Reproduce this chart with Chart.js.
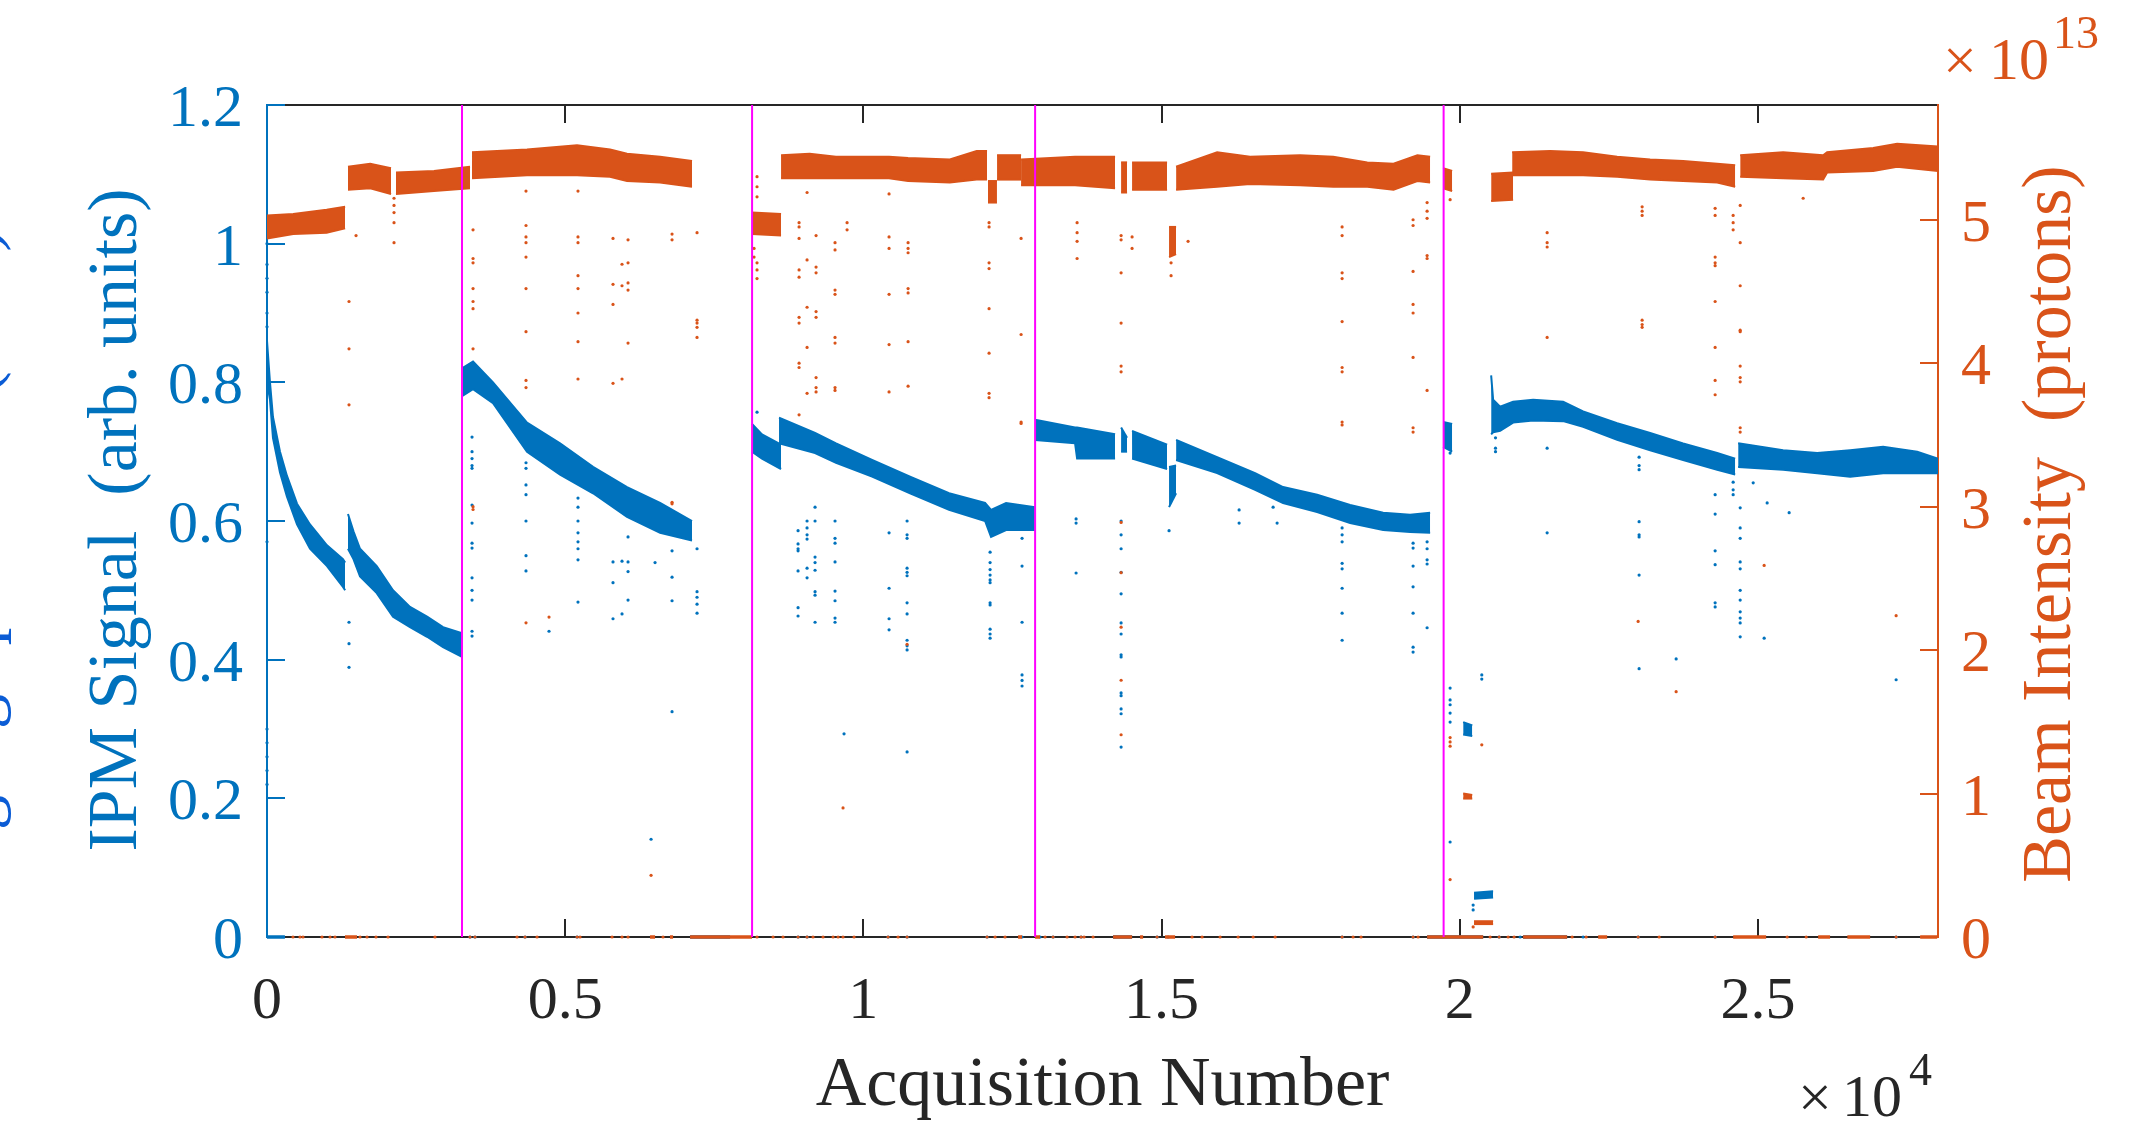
<!DOCTYPE html>
<html>
<head>
<meta charset="utf-8">
<script src="https://cdn.jsdelivr.net/npm/chart.js@4.4.1/dist/chart.umd.min.js"></script>
<style>
  html, body { margin: 0; padding: 0; background: #fff; }
  #wrap { width: 2145px; height: 1132px; position: relative; }
</style>
</head>
<body>
<div id="wrap"><canvas id="chart"></canvas></div>
<script>
const BLUE = '#0072BD';
const ORANGE = '#D95319';
const MAGENTA = '#FF00FF';
const INK = '#262626';
const SERIF = '"Liberation Serif", "Times New Roman", serif';

// axes
const X_MAX = 28020;
const xTicks = [0, 5000, 10000, 15000, 20000, 25000];
const xTickLabels = ['0', '0.5', '1', '1.5', '2', '2.5'];
const ipmTicks = [0, 0.2, 0.4, 0.6, 0.8, 1, 1.2];
const ipmTickLabels = ['0', '0.2', '0.4', '0.6', '0.8', '1', '1.2'];
const beamTicks = [0, 1, 2, 3, 4, 5];
const beamTickLabels = ['0', '1', '2', '3', '4', '5'];

// acquisition numbers where a new run starts (magenta lines)
const runStarts = [3270, 8134, 12880, 19730];

// IPM signal: dense bands, [acquisition, upper edge, lower edge]
const ipmBands = [
  [[0, 50, 100, 218, 335, 503, 721, 1006, 1274, 1310], [0.86, 0.80, 0.75, 0.70, 0.665, 0.625, 0.595, 0.565, 0.545, 0.54], [0.80, 0.775, 0.72, 0.67, 0.635, 0.595, 0.56, 0.535, 0.505, 0.50]],
  [[1358, 1450, 1560, 1840, 2113, 2398, 2684, 2952, 3270], [0.61, 0.585, 0.56, 0.535, 0.50, 0.476, 0.462, 0.447, 0.438], [0.56, 0.545, 0.52, 0.496, 0.462, 0.447, 0.433, 0.418, 0.404]],
  [[3270, 3455, 3790, 4360, 4914, 5467, 6037, 6591, 7127], [0.82, 0.83, 0.80, 0.742, 0.712, 0.678, 0.649, 0.626, 0.60], [0.78, 0.79, 0.77, 0.70, 0.667, 0.64, 0.606, 0.583, 0.572]],
  [[8133, 8300, 8620], [0.74, 0.725, 0.71], [0.70, 0.69, 0.675]],
  [[8586, 9190, 9542, 10146, 10783, 11437, 12041, 12141, 12393, 12879], [0.749, 0.727, 0.712, 0.688, 0.664, 0.64, 0.626, 0.616, 0.626, 0.62], [0.712, 0.698, 0.684, 0.664, 0.64, 0.616, 0.60, 0.577, 0.587, 0.587]],
  [[12879, 13550, 13584, 14221], [0.746, 0.735, 0.735, 0.725], [0.717, 0.712, 0.69, 0.69]],
  [[14322, 14422], [0.735, 0.72], [0.70, 0.70]],
  [[14506, 15093], [0.73, 0.71], [0.69, 0.675]],
  [[15126, 15244], [0.678, 0.68], [0.62, 0.64]],
  [[15244, 15932, 16569, 17038, 17609, 18162, 18716, 19168, 19504], [0.717, 0.692, 0.669, 0.649, 0.638, 0.623, 0.612, 0.609, 0.612], [0.688, 0.669, 0.645, 0.626, 0.613, 0.597, 0.587, 0.584, 0.583]],
  [[19722, 19873], [0.743, 0.74], [0.707, 0.70]],
  [[20058, 20210], [0.31, 0.305], [0.292, 0.29]],
  [[20240, 20560], [0.064, 0.066], [0.055, 0.057]],
  [[20527, 20560, 20678, 20895, 21231, 21734, 22069, 22640, 23193, 23746, 24317, 24619], [0.81, 0.775, 0.765, 0.772, 0.775, 0.772, 0.758, 0.741, 0.727, 0.712, 0.698, 0.69], [0.725, 0.728, 0.73, 0.742, 0.745, 0.744, 0.736, 0.717, 0.702, 0.688, 0.674, 0.667]],
  [[24669, 25423, 25994, 26547, 27100, 27671, 28020], [0.712, 0.702, 0.698, 0.702, 0.707, 0.70, 0.69], [0.678, 0.674, 0.669, 0.664, 0.669, 0.669, 0.669]]
];

// IPM signal: isolated points, [acquisition, values]
const ipmSpikes = [
  [0, [1.00, 0.97, 0.95, 0.93, 0.90, 0.88, 0.57, 0.30, 0.28, 0.26, 0.24, 0.22]],
  [1375, [0.454, 0.423, 0.389]],
  [3438, [0.721, 0.70, 0.69, 0.68, 0.676, 0.623, 0.597, 0.568, 0.561, 0.518, 0.50, 0.486, 0.441, 0.434]],
  [4343, [0.684, 0.676, 0.652, 0.638, 0.60, 0.55, 0.528]],
  [4729, [0.441]],
  [5215, [0.633, 0.62, 0.60, 0.583, 0.57, 0.56, 0.544, 0.483]],
  [5802, [0.541, 0.511, 0.459]],
  [5953, [0.542, 0.466]],
  [6054, [0.577, 0.541, 0.527, 0.486]],
  [6440, [0.141]],
  [6507, [0.54]],
  [6792, [0.557, 0.519, 0.485, 0.325]],
  [7211, [0.56, 0.498, 0.49, 0.48, 0.467]],
  [8217, [0.757]],
  [8905, [0.586, 0.567, 0.56, 0.557, 0.528, 0.475, 0.463]],
  [9056, [0.60, 0.59, 0.58, 0.574, 0.532, 0.518]],
  [9190, [0.62, 0.60, 0.548, 0.54, 0.529, 0.498, 0.493, 0.454]],
  [9525, [0.60, 0.575, 0.568, 0.541, 0.499, 0.485, 0.46, 0.454]],
  [9676, [0.293]],
  [10431, [0.583, 0.503, 0.459, 0.443]],
  [10733, [0.60, 0.58, 0.575, 0.532, 0.526, 0.521, 0.482, 0.466, 0.428, 0.42, 0.414, 0.267]],
  [12125, [0.555, 0.54, 0.53, 0.522, 0.515, 0.511, 0.482, 0.479, 0.444, 0.437, 0.431]],
  [12661, [0.575, 0.535, 0.454, 0.378, 0.37, 0.362]],
  [13567, [0.603, 0.597, 0.525]],
  [14322, [0.60, 0.58, 0.56, 0.526, 0.495, 0.453, 0.437, 0.407, 0.404, 0.352, 0.348, 0.329, 0.322, 0.274]],
  [15126, [0.586]],
  [16301, [0.616, 0.597]],
  [16871, [0.62]],
  [16938, [0.597]],
  [18028, [0.59, 0.58, 0.57, 0.539, 0.531, 0.503, 0.467, 0.428]],
  [19218, [0.568, 0.561, 0.535, 0.505, 0.467, 0.418, 0.411]],
  [19453, [0.57, 0.56, 0.544, 0.538, 0.446]],
  [19839, [0.698, 0.359, 0.342, 0.335, 0.323, 0.31, 0.137]],
  [20225, [0.046, 0.039]],
  [20370, [0.378, 0.372]],
  [20600, [0.72, 0.705, 0.70]],
  [21466, [0.705, 0.583]],
  [23008, [0.692, 0.68, 0.674, 0.599, 0.58, 0.577, 0.522, 0.387]],
  [23629, [0.401]],
  [24283, [0.638, 0.61, 0.557, 0.537, 0.482, 0.476]],
  [24585, [0.656, 0.645, 0.638]],
  [24703, [0.619, 0.59, 0.575, 0.541, 0.531, 0.50, 0.486, 0.469, 0.46, 0.453, 0.433]],
  [24921, [0.655]],
  [25105, [0.431]],
  [25155, [0.626]],
  [25524, [0.612]],
  [27318, [0.371]]
];

// IPM signal: zero readings
const ipmZeroX = [3404, 3488, 4327, 5199, 8905, 9056, 10414, 10733, 12074, 12661, 12963, 13181, 13651, 14925, 15110, 18028, 19218, 20661, 21013, 22069, 22992, 24283, 27318];
const ipmZeroRuns = [[0, 300], [7094, 7765], [14187, 14506], [19453, 20393], [21063, 21801]];

// beam intensity (x1e13 protons): dense bands
const beamBands = [
  [[0, 440, 1000, 1310], [5.03, 5.04, 5.07, 5.09], [4.87, 4.90, 4.91, 4.94]],
  [[1358, 1730, 2080], [5.37, 5.39, 5.36], [5.21, 5.22, 5.18]],
  [[2163, 2800, 3404], [5.33, 5.34, 5.37], [5.18, 5.20, 5.22]],
  [[3438, 4360, 5199, 5752, 6037, 6591, 7127], [5.47, 5.49, 5.52, 5.49, 5.46, 5.44, 5.41], [5.29, 5.31, 5.31, 5.30, 5.27, 5.26, 5.23]],
  [[8133, 8620], [5.05, 5.04], [4.90, 4.89]],
  [[8620, 9100, 9540, 10430, 10750, 11450, 11900, 12074], [5.45, 5.46, 5.44, 5.44, 5.43, 5.42, 5.48, 5.48], [5.29, 5.29, 5.29, 5.29, 5.27, 5.26, 5.28, 5.28]],
  [[12090, 12240], [5.27, 5.27], [5.12, 5.12]],
  [[12242, 12645], [5.45, 5.45], [5.28, 5.28]],
  [[12645, 13550, 14221], [5.42, 5.44, 5.44], [5.24, 5.24, 5.22]],
  [[14322, 14422], [5.40, 5.40], [5.19, 5.19]],
  [[14506, 15093], [5.40, 5.40], [5.21, 5.21]],
  [[15126, 15244], [4.95, 4.95], [4.74, 4.76]],
  [[15244, 15932, 16485, 17323, 17880, 18450, 18890, 19290, 19504], [5.37, 5.47, 5.44, 5.45, 5.44, 5.40, 5.39, 5.45, 5.44], [5.21, 5.23, 5.25, 5.24, 5.23, 5.23, 5.21, 5.27, 5.26]],
  [[19722, 19873], [5.36, 5.34], [5.22, 5.20]],
  [[20058, 20210], [1.0, 0.99], [0.965, 0.965]],
  [[20240, 20560], [0.11, 0.11], [0.09, 0.09]],
  [[20527, 20895], [5.32, 5.33], [5.13, 5.14]],
  [[20879, 21516, 22069, 22640, 23193, 23746, 24317, 24619], [5.47, 5.48, 5.47, 5.44, 5.42, 5.41, 5.39, 5.38], [5.31, 5.31, 5.31, 5.30, 5.28, 5.27, 5.26, 5.23]],
  [[24703, 25423, 26094, 26161, 26933, 27335, 28020], [5.45, 5.47, 5.45, 5.47, 5.50, 5.53, 5.51], [5.30, 5.29, 5.28, 5.33, 5.34, 5.37, 5.34]]
];

const beamSpikes = [
  [1375, [4.43, 4.10, 3.71]],
  [1493, [4.89]],
  [2130, [5.15, 5.10, 5.05, 4.98, 4.84]],
  [3455, [4.93, 4.73, 4.70, 4.52, 4.43, 4.38, 4.10, 3.00, 2.98]],
  [4343, [5.20, 4.96, 4.88, 4.84, 4.74, 4.52, 4.22, 3.88, 3.83, 2.19]],
  [4729, [2.23]],
  [5215, [5.20, 4.88, 4.84, 4.61, 4.52, 4.35, 4.15, 3.89]],
  [5802, [4.87, 4.55, 4.41, 3.86]],
  [5953, [4.69, 4.54, 3.89]],
  [6054, [4.86, 4.70, 4.56, 4.51, 4.14]],
  [6440, [0.43]],
  [6792, [4.90, 4.86, 3.03, 3.02]],
  [7211, [4.91, 4.30, 4.28, 4.25, 4.18]],
  [8167, [4.80, 4.74]],
  [8217, [5.30, 5.23, 5.16, 4.70, 4.65, 4.59]],
  [8922, [4.98, 4.95, 4.87, 4.65, 4.60, 4.32, 4.28, 4.00, 3.97, 3.64]],
  [9056, [5.19, 4.72, 4.39, 4.11, 3.79]],
  [9207, [4.89, 4.67, 4.63, 4.36, 4.32, 3.90, 3.83, 3.80]],
  [9525, [4.84, 4.79, 4.51, 4.48, 4.18, 4.14, 3.83, 3.81]],
  [9659, [0.90]],
  [9727, [4.98, 4.93]],
  [10431, [5.18, 4.88, 4.80, 4.48, 4.13, 3.80]],
  [10733, [2.04]],
  [10750, [4.84, 4.80, 4.77, 4.52, 4.49, 4.15, 3.84]],
  [12108, [4.98, 4.95, 4.70, 4.66, 4.38, 4.07, 3.79, 3.76]],
  [12645, [4.87, 4.20, 3.59, 3.58]],
  [13584, [4.98, 4.91, 4.85, 4.73]],
  [14322, [4.89, 4.86, 4.63, 4.28, 3.98, 3.94, 2.89, 2.54, 2.16, 1.79, 1.41]],
  [14506, [4.88, 4.80]],
  [15160, [4.70, 4.61]],
  [15445, [4.85]],
  [18028, [4.95, 4.89, 4.63, 4.59, 4.29, 3.97, 3.94, 3.59, 3.57]],
  [19218, [5.00, 4.96, 4.64, 4.41, 4.35, 4.04, 3.55, 3.52]],
  [19453, [5.12, 5.06, 5.01, 4.75, 4.73, 3.81]],
  [19839, [5.14, 1.39, 1.36, 1.33, 0.40]],
  [20225, [0.07]],
  [20370, [1.34]],
  [21466, [4.91, 4.84, 4.81, 4.18]],
  [22992, [2.20]],
  [23059, [5.09, 5.06, 5.03, 4.30, 4.27, 4.25]],
  [23629, [1.71]],
  [24283, [5.08, 5.03, 4.74, 4.70, 4.68, 4.43, 4.11, 3.88, 3.78]],
  [24585, [5.03, 4.98, 4.93]],
  [24703, [5.10, 4.84, 4.54, 4.23, 4.22, 3.98, 3.90, 3.87, 3.55, 3.52]],
  [25105, [2.59]],
  [25759, [5.15]],
  [27318, [2.24]]
];

const beamZeroX = [436, 553, 604, 922, 1057, 1140, 1560, 1677, 1828, 2029, 2817, 3404, 3488, 4193, 4327, 4528, 5199, 5249, 5786, 5953, 6054, 6641, 8217, 8486, 8653, 8905, 9056, 9156, 9324, 9492, 9576, 9659, 9844, 10414, 10582, 10733, 12074, 12209, 12376, 13047, 13181, 13416, 13550, 13651, 13701, 13852, 14925, 15512, 15680, 15982, 16284, 16536, 16905, 18028, 18212, 18346, 19218, 19302, 20510, 20661, 20812, 20912, 21885, 22120, 22992, 23344, 24283, 25491, 25810, 27318];
const beamZeroRuns = [[1308, 1509], [6423, 6507], [6758, 6809], [7094, 8133], [12594, 12661], [12879, 12963], [14187, 14506], [14640, 14691], [15059, 15227], [19453, 20393], [21063, 21801], [22321, 22472], [24585, 25138], [26010, 26210], [26500, 26882], [27721, 28006]];

// ---- dataset builders ----
function bandSets(bands, color, axis, order) {
  const out = [];
  bands.forEach(([xs, hi, lo]) => {
    const common = { borderColor: color, borderWidth: 2, pointRadius: 0, yAxisID: axis, order: order, clip: false, tension: 0 };
    out.push({ ...common, data: xs.map((x, i) => ({ x: x, y: hi[i] })), fill: false });
    out.push({ ...common, data: xs.map((x, i) => ({ x: x, y: lo[i] })), fill: '-1', backgroundColor: color });
  });
  return out;
}

function pointSet(pairs, color, axis, order) {
  const pts = [];
  pairs.forEach(([x, ys]) => ys.forEach(y => pts.push({ x: x, y: y })));
  return { data: pts, showLine: false, pointRadius: 1.6, pointBorderWidth: 0, pointBackgroundColor: color, yAxisID: axis, order: order, clip: false };
}

function runSets(runs, color, axis, order) {
  return runs.map(([a, b]) => ({ data: [{ x: a, y: 0 }, { x: b, y: 0 }], borderColor: color, borderWidth: 3.5, pointRadius: 0, fill: false, yAxisID: axis, order: order, clip: false }));
}

const datasets = [];
runStarts.forEach(x => datasets.push({ data: [{ x: x, y: 0 }, { x: x, y: 1.2 }], borderColor: MAGENTA, borderWidth: 2, pointRadius: 0, fill: false, yAxisID: 'y', order: 0, clip: false }));
datasets.push(...bandSets(beamBands, ORANGE, 'y1', 3));
datasets.push(pointSet(beamSpikes, ORANGE, 'y1', 3));
datasets.push(pointSet(beamZeroX.map(x => [x, [0]]), ORANGE, 'y1', 5));
datasets.push(...runSets(beamZeroRuns, ORANGE, 'y1', 5));
datasets.push(...bandSets(ipmBands, BLUE, 'y', 4));
datasets.push(pointSet(ipmSpikes, BLUE, 'y', 4));
datasets.push(pointSet(ipmZeroX.map(x => [x, [0]]), BLUE, 'y', 6));
datasets.push(...runSets(ipmZeroRuns, BLUE, 'y', 6));

// ---- axes decoration: inward ticks, labels, titles ----
const TICK = 18;
const axisDecor = {
  id: 'axisDecor',
  beforeDatasetsDraw(chart) {
    const { ctx, chartArea: a, scales } = chart;
    ctx.save();
    ctx.lineWidth = 2;
    ctx.strokeStyle = INK;
    ctx.beginPath();
    xTicks.forEach(v => {
      const p = Math.round(scales.x.getPixelForValue(v));
      if (p <= a.left + 2 || p >= a.right - 2) return;
      ctx.moveTo(p, a.bottom); ctx.lineTo(p, a.bottom - TICK);
      ctx.moveTo(p, a.top); ctx.lineTo(p, a.top + TICK);
    });
    ctx.stroke();
    ctx.strokeStyle = BLUE;
    ctx.beginPath();
    ipmTicks.forEach(v => {
      const p = Math.round(scales.y.getPixelForValue(v));
      ctx.moveTo(a.left, p); ctx.lineTo(a.left + TICK, p);
    });
    ctx.stroke();
    ctx.strokeStyle = ORANGE;
    ctx.beginPath();
    beamTicks.forEach(v => {
      const p = Math.round(scales.y1.getPixelForValue(v));
      ctx.moveTo(a.right, p); ctx.lineTo(a.right - TICK, p);
    });
    ctx.stroke();
    ctx.restore();
  },
  afterDraw(chart) {
    const { ctx, chartArea: a, scales } = chart;
    ctx.save();
    ctx.textBaseline = 'alphabetic';
    ctx.font = '60px ' + SERIF;

    ctx.fillStyle = INK;
    ctx.textAlign = 'center';
    xTicks.forEach((v, i) => ctx.fillText(xTickLabels[i], scales.x.getPixelForValue(v), 1018));

    ctx.fillStyle = BLUE;
    ctx.textAlign = 'right';
    ipmTicks.forEach((v, i) => ctx.fillText(ipmTickLabels[i], a.left - 24, scales.y.getPixelForValue(v) + 21));

    ctx.fillStyle = ORANGE;
    ctx.textAlign = 'left';
    beamTicks.forEach((v, i) => ctx.fillText(beamTickLabels[i], a.right + 23, scales.y1.getPixelForValue(v) + 21));

    // exponent notes
    ctx.fillText('\u00d7', 1943, 80);
    ctx.fillText('10', 1989, 79);
    ctx.font = '46px ' + SERIF;
    ctx.fillText('13', 2053, 48);

    ctx.fillStyle = INK;
    ctx.font = '60px ' + SERIF;
    ctx.fillText('\u00d7', 1798, 1117);
    ctx.fillText('10', 1842, 1116);
    ctx.font = '46px ' + SERIF;
    ctx.fillText('4', 1909, 1085);

    // axis titles
    ctx.font = '70px ' + SERIF;
    ctx.textAlign = 'center';
    ctx.fillText('Acquisition Number', (a.left + a.right) / 2, 1105);

    ctx.fillStyle = BLUE;
    ctx.translate(136, 520);
    ctx.rotate(-Math.PI / 2);
    ctx.fillText('IPM Signal  (arb. units)', 0, 0);
    ctx.setTransform(1, 0, 0, 1, 0, 0);

    ctx.fillStyle = ORANGE;
    ctx.translate(2070, 524);
    ctx.rotate(-Math.PI / 2);
    ctx.fillText('Beam Intensity  (protons)', 0, 0);
    ctx.setTransform(1, 0, 0, 1, 0, 0);

    // clipped label of a neighbouring panel at the left edge
    ctx.fillStyle = '#0b5cd5';
    ctx.textAlign = 'left';
    ctx.translate(-4, 830);
    ctx.rotate(-Math.PI / 2);
    ctx.fillText('gauge pressure (Torr)', 0, 0);
    ctx.restore();
  }
};

new Chart(document.getElementById('chart'), {
  type: 'line',
  data: { datasets: datasets },
  options: {
    responsive: true,
    maintainAspectRatio: false,
    animation: false,
    events: [],
    layout: { padding: 0 },
    plugins: { legend: { display: false }, tooltip: { enabled: false } },
    scales: {
      x: {
        type: 'linear', position: 'bottom', min: 0, max: X_MAX,
        grid: { display: false }, ticks: { display: false },
        border: { color: INK, width: 2 },
        afterFit(s) { s.height = 195; }
      },
      xTop: {
        type: 'linear', position: 'top', min: 0, max: X_MAX,
        grid: { display: false }, ticks: { display: false },
        border: { color: INK, width: 2 },
        afterFit(s) { s.height = 105; }
      },
      y: {
        type: 'linear', position: 'left', min: 0, max: 1.2,
        grid: { display: false }, ticks: { display: false },
        border: { color: BLUE, width: 2 },
        afterFit(s) { s.width = 267; }
      },
      y1: {
        type: 'linear', position: 'right', min: 0, max: 5.8,
        grid: { display: false }, ticks: { display: false },
        border: { color: ORANGE, width: 2 },
        afterFit(s) { s.width = 207; }
      }
    }
  },
  plugins: [axisDecor]
});
</script>
</body>
</html>
